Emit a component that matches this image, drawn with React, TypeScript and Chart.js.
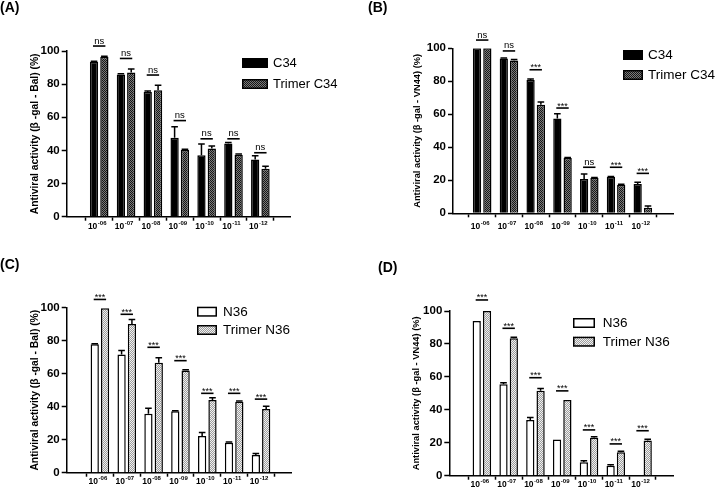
import React, { useEffect, useRef } from 'react';
import { Chart, registerables } from 'chart.js';

Chart.register(...registerables);

const FONT = "'Liberation Sans', Arial, Helvetica, sans-serif";
Chart.defaults.font.family = FONT;
Chart.defaults.color = '#000';

// ---------- data ----------
// concentration categories: 10 raised to these exponents
const tickBase = '10';
const tickExponents = ['-06', '-07', '-08', '-09', '-10', '-11', '-12'];

// Panel A (β-gal - Bal), C34 vs Trimer C34
const aC34 = [93.5, 85.8, 75.3, 47.6, 37.1, 44.2, 34.5];
const aC34Err = [0.3, 0.5, 0.5, 6.7, 6.7, 0.6, 2.3];
const aTrimerC34 = [96.6, 87.1, 76.3, 40.3, 41.1, 37.4, 28.9];
const aTrimerC34Err = [0.3, 2.0, 3.0, 0.4, 1.6, 0.4, 1.6];
const aSig = ['ns', 'ns', 'ns', 'ns', 'ns', 'ns', 'ns'];
const aSigLevel = [103, 95.5, 85.5, 58, 47, 47, 38.6];

// Panel B (β-gal - VN44), C34 vs Trimer C34
const bC34 = [100, 93.8, 80.8, 57.4, 20.8, 22.0, 17.8];
const bC34Err = [0, 0.3, 0.6, 3.0, 3.0, 0.3, 1.0];
const bTrimerC34 = [100, 92.6, 65.8, 33.5, 21.4, 17.2, 3.3];
const bTrimerC34Err = [0, 0.6, 1.7, 0.3, 0.3, 0.4, 1.2];
const bSig = ['ns', 'ns', '***', '***', 'ns', '***', '***'];
const bSigLevel = [105, 98.4, 87, 63.8, 27.9, 27.9, 24.2];

// Panel C (β-gal - Bal), N36 vs Trimer N36
const cN36 = [77.8, 71.7, 35.8, 37.2, 22.2, 18.2, 10.7];
const cN36Err = [0.4, 2.4, 3.2, 0.4, 2.2, 0.4, 1.0];
const cTrimerN36 = [99.6, 90.1, 66.7, 62.0, 44.0, 43.0, 38.6];
const cTrimerN36Err = [0, 2.8, 3.0, 0.4, 1.5, 0.4, 1.6];
const cSig = ['***', '***', '***', '***', '***', '***', '***'];
const cSigLevel = [105, 96, 76, 67.9, 48.1, 48.1, 44.6];

// Panel D (β-gal - VN44), N36 vs Trimer N36
const dN36 = [93.9, 55.5, 33.8, 22.0, 8.1, 6.1, null];
const dN36Err = [0, 1.0, 1.6, 0, 1.0, 0.6, 0];
const dTrimerN36 = [100, 83.4, 51.6, 46.0, 23.1, 14.2, 21.3];
const dTrimerN36Err = [0, 0.6, 1.4, 0, 0.6, 0.6, 0.8];
const dSig = ['***', '***', '***', '***', '***', '***', '***'];
const dSigLevel = [106.7, 89.5, 59.5, 51.5, 27.8, 19.3, 27.3];

const yTitleBal = 'Antiviral activity (β -gal - Bal) (%)';
const yTitleVN44 = 'Antiviral activity (β -gal - VN44) (%)';

// ---------- layout / style ----------
type Panel = {
  key: string;
  tag: string;
  tagPos: [number, number];
  left: number; top: number; w: number; h: number;
  kind: 'C' | 'N';
  names: [string, string];
  values: (number | null)[][];
  errors: number[][];
  sig: string[];
  sigLevel: number[];
  yTitle: string;
  titleFont: number;
  titleX: number;
  axisX: number;
  axisRight: number;
  areaTop: number;
  areaBottom: number;
  xMin: number; xMax: number;
  tickDrop: number;
  legend: { x: number; w: number; rows: [number, number]; textX: number; font: number };
};

const panels: Panel[] = [
  {
    key: 'A', tag: '(A)', tagPos: [0, -1], left: 0, top: 0, w: 360, h: 247, kind: 'C',
    names: ['C34', 'Trimer C34'], values: [aC34, aTrimerC34], errors: [aC34Err, aTrimerC34Err],
    sig: aSig, sigLevel: aSigLevel, yTitle: yTitleBal, titleFont: 10.3, titleX: 35,
    axisX: 66.7, axisRight: 290, areaTop: 51, areaBottom: 216.7, xMin: -0.616, xMax: 6.51, tickDrop: 12.5,
    legend: { x: 242, w: 26, rows: [63, 84], textX: 273, font: 13 },
  },
  {
    key: 'B', tag: '(B)', tagPos: [368, -1], left: 360, top: 0, w: 360, h: 247, kind: 'C',
    names: ['C34', 'Trimer C34'], values: [bC34, bTrimerC34], errors: [bC34Err, bTrimerC34Err],
    sig: bSig, sigLevel: bSigLevel, yTitle: yTitleVN44, titleFont: 9.3, titleX: 57.5,
    axisX: 93, axisRight: 313, areaTop: 48.3, areaBottom: 213.3, xMin: -0.503, xMax: 6.54, tickDrop: 15.5,
    legend: { x: 263, w: 20, rows: [55, 75], textX: 288, font: 13.5 },
  },
  {
    key: 'C', tag: '(C)', tagPos: [0, 256], left: 0, top: 247, w: 360, h: 248, kind: 'N',
    names: ['N36', 'Trimer N36'], values: [cN36, cTrimerN36], errors: [cN36Err, cTrimerN36Err],
    sig: cSig, sigLevel: cSigLevel, yTitle: yTitleBal, titleFont: 10.3, titleX: 35.5,
    axisX: 66.7, axisRight: 291, areaTop: 60.7, areaBottom: 225.7, xMin: -0.64, xMax: 6.52, tickDrop: 11.5,
    legend: { x: 197, w: 20, rows: [64.7, 83], textX: 223, font: 13.5 },
  },
  {
    key: 'D', tag: '(D)', tagPos: [378, 259], left: 360, top: 247, w: 360, h: 248, kind: 'N',
    names: ['N36', 'Trimer N36'], values: [dN36, dTrimerN36], errors: [dN36Err, dTrimerN36Err],
    sig: dSig, sigLevel: dSigLevel, yTitle: yTitleVN44, titleFont: 9.3, titleX: 56,
    axisX: 89.3, axisRight: 313, areaTop: 64, areaBottom: 228.7, xMin: -0.62, xMax: 6.54, tickDrop: 11.5,
    legend: { x: 213, w: 22, rows: [76, 94.7], textX: 242.7, font: 13.5 },
  },
];

function makePattern(ctx: CanvasRenderingContext2D, dark: string, light: string) {
  const c = document.createElement('canvas');
  c.width = 2;
  c.height = 2;
  const g = c.getContext('2d')!;
  g.fillStyle = light;
  g.fillRect(0, 0, 2, 2);
  g.fillStyle = dark;
  g.fillRect(0, 0, 1, 1);
  g.fillRect(1, 1, 1, 1);
  return ctx.createPattern(c, 'repeat') as CanvasPattern;
}

function PanelChart({ p }: { p: Panel }) {
  const ref = useRef<HTMLCanvasElement>(null);
  useEffect(() => {
    const canvas = ref.current!;
    const ctx0 = canvas.getContext('2d')!;
    const fills: (string | CanvasPattern)[] =
      p.kind === 'C'
        ? ['#000000', makePattern(ctx0, '#161616', '#7a7a7a')]
        : ['#ffffff', makePattern(ctx0, '#9c9c9c', '#f0f0f0')];

    const titleLH = p.titleFont * 1.2;
    const titlePad = 2;
    const padLeft = p.titleX - titleLH / 2 - titlePad;

    const annotate = {
      id: 'annot' + p.key,
      afterDatasetsDraw(chart: any) {
        const ctx: CanvasRenderingContext2D = chart.ctx;
        const ys = chart.scales.y;
        const xs = chart.scales.x;
        ctx.save();
        ctx.strokeStyle = '#000';
        ctx.lineWidth = 1.5;
        // error bars
        p.errors.forEach((errs, di) => {
          const meta = chart.getDatasetMeta(di);
          meta.data.forEach((el: any, i: number) => {
            const v = p.values[di][i];
            const e = errs[i];
            if (v == null || !e) return;
            const base = ys.getPixelForValue(v);
            const top = ys.getPixelForValue(v + e);
            ctx.beginPath();
            ctx.moveTo(el.x, base);
            ctx.lineTo(el.x, top);
            ctx.moveTo(el.x - 3.3, top);
            ctx.lineTo(el.x + 3.3, top);
            ctx.stroke();
          });
        });
        // significance markers
        ctx.lineWidth = 1.6;
        ctx.fillStyle = '#000';
        ctx.textAlign = 'center';
        ctx.textBaseline = 'alphabetic';
        p.sig.forEach((s, i) => {
          const cx = xs.getPixelForValue(i);
          const ly = ys.getPixelForValue(p.sigLevel[i]);
          ctx.beginPath();
          ctx.moveTo(cx - 6.2, ly);
          ctx.lineTo(cx + 6.2, ly);
          ctx.stroke();
          ctx.font = s === 'ns' ? `9.5px ${FONT}` : `9px ${FONT}`;
          ctx.fillText(s, cx, s === 'ns' ? ly - 2.5 : ly + 0.5);
        });
        // x tick labels: 10 with superscript exponent
        const axisY = ys.getPixelForValue(0);
        ctx.textAlign = 'left';
        ctx.textBaseline = 'alphabetic';
        tickExponents.forEach((ex, i) => {
          const cx = xs.getPixelForValue(i);
          const fBase = `bold 8.5px ${FONT}`;
          const fExp = `bold 6px ${FONT}`;
          ctx.font = fBase;
          const wb = ctx.measureText(tickBase).width;
          ctx.font = fExp;
          const we = ctx.measureText(ex).width;
          const x0 = cx - 2 - (wb + we + 0.5) / 2;
          ctx.font = fBase;
          ctx.fillText(tickBase, x0, axisY + p.tickDrop);
          ctx.font = fExp;
          ctx.fillText(ex, x0 + wb + 0.5, axisY + p.tickDrop - 4.2);
        });
        // legend
        const L = p.legend;
        p.names.forEach((name, di) => {
          const yc = L.rows[di];
          ctx.fillStyle = fills[di] as any;
          ctx.fillRect(L.x, yc - 5, L.w, 10);
          ctx.lineWidth = 1.5;
          ctx.strokeStyle = '#000';
          ctx.strokeRect(L.x + 0.75, yc - 5 + 0.75, L.w - 1.5, 10 - 1.5);
          ctx.fillStyle = '#000';
          ctx.font = `${L.font}px ${FONT}`;
          ctx.textAlign = 'left';
          ctx.textBaseline = 'middle';
          ctx.fillText(name, L.textX, yc + 0.5);
        });
        ctx.restore();
      },
    };

    const chart = new Chart(canvas, {
      type: 'bar',
      data: {
        labels: tickExponents.map((_, i) => i),
        datasets: p.values.map((vals, di) => ({
          label: p.names[di],
          data: vals,
          backgroundColor: fills[di],
          borderColor: '#000',
          borderWidth: 1.5,
          categoryPercentage: 0.77,
          barPercentage: 0.8,
        })),
      } as any,
      options: {
        responsive: false,
        animation: false,
        devicePixelRatio: 1,
        layout: { padding: { left: padLeft, right: p.w - p.axisRight, top: p.areaTop, bottom: 0 } },
        plugins: { legend: { display: false }, tooltip: { enabled: false } },
        scales: {
          x: {
            type: 'linear',
            min: p.xMin,
            max: p.xMax,
            bounds: 'data',
            afterBuildTicks: (s: any) => {
              s.ticks = tickExponents.map((_, i) => ({ value: i }));
            },
            afterFit: (s: any) => {
              s.height = p.h - p.areaBottom;
            },
            ticks: { display: false },
            grid: { display: true, drawOnChartArea: false, drawTicks: true, tickLength: 4, tickWidth: 1.5, tickColor: '#000' },
            border: { display: true, color: '#000', width: 1.5 },
          },
          y: {
            type: 'linear',
            min: 0,
            max: 100,
            afterFit: (s: any) => {
              s.width = p.axisX - padLeft;
            },
            ticks: {
              stepSize: 10,
              padding: 2,
              color: '#000',
              font: { size: 11.5, weight: 'bold' },
              callback: (v: any) => (v % 20 === 0 ? String(v) : ''),
            },
            title: {
              display: true,
              text: p.yTitle,
              color: '#000',
              font: { size: p.titleFont, weight: 'bold' },
              padding: { top: titlePad, bottom: 0 },
            },
            grid: { display: true, drawOnChartArea: false, drawTicks: true, tickLength: 5, tickWidth: 1.5, tickColor: '#000' },
            border: { display: true, color: '#000', width: 1.5 },
          },
        },
      } as any,
      plugins: [annotate],
    });
    return () => chart.destroy();
  }, []);
  return (
    <canvas
      ref={ref}
      width={p.w}
      height={p.h}
      style={{ position: 'absolute', left: p.left, top: p.top, width: p.w, height: p.h }}
    />
  );
}

export default function App() {
  return (
    <div style={{ position: 'absolute', left: 0, top: 0, width: 720, height: 495, background: '#fff', overflow: 'hidden' }}>
      {panels.map((p) => (
        <PanelChart key={p.key} p={p} />
      ))}
      {panels.map((p) => (
        <div
          key={'t' + p.key}
          style={{
            position: 'absolute',
            left: p.tagPos[0],
            top: p.tagPos[1],
            font: `bold 14px ${FONT}`,
            lineHeight: '16px',
            color: '#000',
          }}
        >
          {p.tag}
        </div>
      ))}
    </div>
  );
}
